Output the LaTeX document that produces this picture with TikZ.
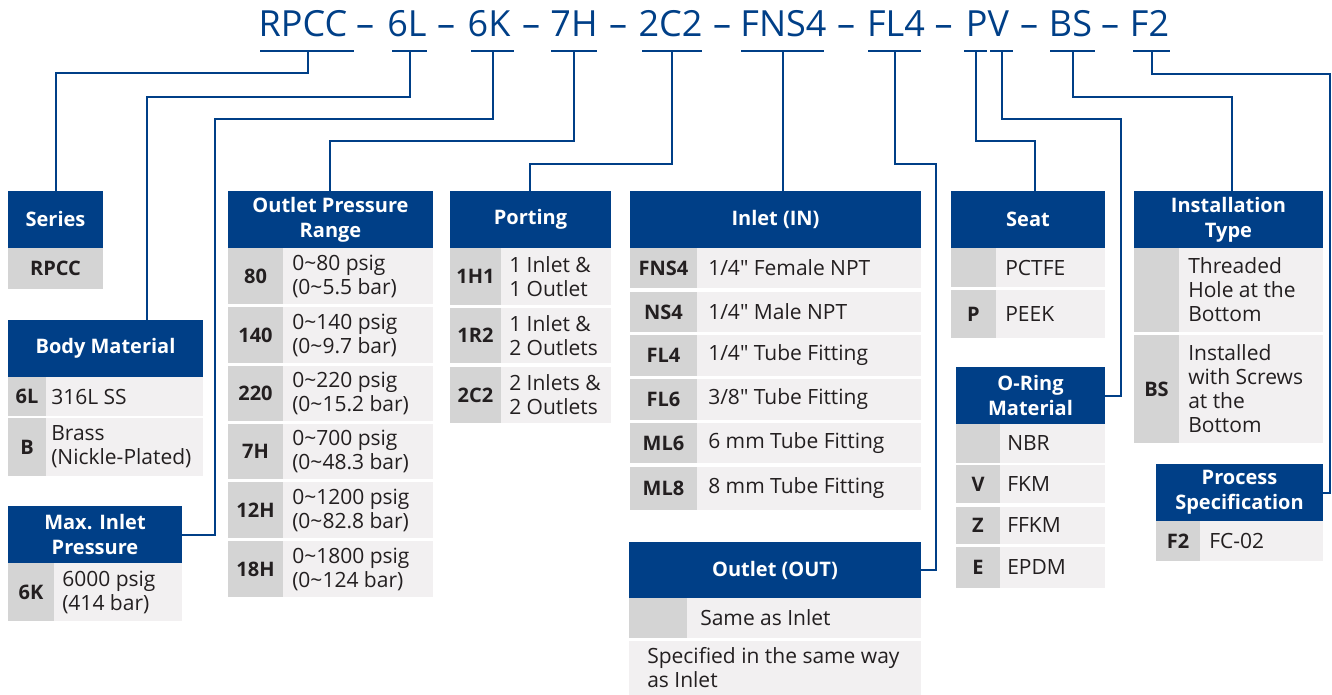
\documentclass[tikz,border=0pt]{standalone}
\usepackage{fontspec}
\setmainfont{Open Sans}[Ligatures=TeXOff]
\definecolor{hblue}{RGB}{0,63,135}
\definecolor{cgray}{RGB}{212,212,212}
\definecolor{dgray}{RGB}{242,240,241}
\definecolor{tdark}{RGB}{35,31,32}
\newcommand\descfont{\fontsize{15.75}{18}\selectfont}
\newcommand\codefont{\bfseries\fontsize{15}{18}\selectfont}
\newcommand\headfont{\bfseries\fontsize{15}{18.75}\selectfont}
\newcommand\titlefont{\fontsize{27}{30}\selectfont}
\tikzset{
  hd/.style={fill=hblue, text=white, font=\headfont, align=center, inner sep=0pt, draw=none},
  codet/.style={font=\codefont, text=tdark, inner sep=0pt},
  desct/.style={font=\descfont, text=tdark, align=left, inner sep=0pt},
  ttl/.style={font=\titlefont, text=hblue, inner sep=0pt, anchor=base},
  conn/.style={draw=hblue, line width=1.5pt},
  uline/.style={draw=hblue, line width=1.7pt}
}
% header box: name, x1, y1, x2, y2, text
\newcommand\Hd[6]{\node[hd, minimum width={(#4-#2)*0.75pt}, minimum height={(#5-#3)*0.75pt}] (#1) at ({(#2+#4)/2},{(#3+#5)/2}) {#6};}
% row: name, x1, xc, x2, y1, y2, code, descX, desc
\newcommand\Rw[9]{%
  \fill[cgray] (#2,#5) rectangle (#3,#6);
  \fill[dgray] (#3,#5) rectangle (#4,#6);
  \node[codet] (#1-c) at ({(#2+#3)/2},{(#5+#6)/2}) {#7};
  \node[desct, anchor=west] (#1) at (#8,{(#5+#6)/2}) {#9};}
\begin{document}
\begin{tikzpicture}[x=0.75pt,y=-0.75pt]
\useasboundingbox (0,0) rectangle (1332,695);

% ---------- title code ----------
\node[ttl] (cRPCC) at (303,37) {RPCC};
\node[ttl] (d1) at (365,37) {–};
\node[ttl] (c6L) at (407,37) {6L};
\node[ttl] (d2) at (446,37) {–};
\node[ttl] (c6K) at (489,37) {6K};
\node[ttl] (d3) at (531,37) {–};
\node[ttl] (c7H) at (574,37) {7H};
\node[ttl] (d4) at (618,37) {–};
\node[ttl] (c2C2) at (670.5,37) {2C2};
\node[ttl] (d5) at (722,37) {–};
\node[ttl] (cFNS4) at (783.5,37) {FNS4};
\node[ttl] (d6) at (846,37) {–};
\node[ttl] (cFL4) at (896,37) {FL4};
\node[ttl] (d7) at (943.5,37) {–};
\node[ttl] (cPV) at (987.5,37) {PV};
\node[ttl] (d8) at (1029,37) {–};
\node[ttl] (cBS) at (1070.5,37) {BS};
\node[ttl] (d9) at (1110,37) {–};
\node[ttl] (cF2) at (1149.5,37) {F2};

% underlines
\draw[uline] (260,51) -- (354,51);
\draw[uline] (392,51) -- (427,51);
\draw[uline] (471,51) -- (514,51);
\draw[uline] (551,51) -- (597,51);
\draw[uline] (642,51) -- (702,51);
\draw[uline] (741,51) -- (824,51);
\draw[uline] (868,51) -- (921,51);
\draw[uline] (964,51) -- (987,51);
\draw[uline] (990,51) -- (1013,51);
\draw[uline] (1050,51) -- (1095,51);
\draw[uline] (1133,51) -- (1170,51);

% tick points and junctions
\coordinate (tA) at (308,51);     \coordinate (jA) at (55.5,73);
\coordinate (t6L) at (410,51);    \coordinate (j6L) at (147,97);
\coordinate (t6K) at (492.5,51);  \coordinate (j6K) at (215,119);
\coordinate (t7H) at (574,51);    \coordinate (j7H) at (330,141);
\coordinate (t2C2) at (672,51);   \coordinate (j2C2) at (530,164);
\coordinate (tFNS4) at (782.5,51);
\coordinate (tFL4) at (894.5,51); \coordinate (jFL4) at (936,164);
\coordinate (tP) at (975.5,51);   \coordinate (jP) at (1035,141);
\coordinate (tV) at (1001.5,51);  \coordinate (jV) at (1121,119);
\coordinate (tBS) at (1072.5,51); \coordinate (jBS) at (1231.5,97);
\coordinate (tF2) at (1151.5,51); \coordinate (jF2) at (1330,74);

% ---------- Series ----------
\Hd{hSeries}{8}{191}{103}{248}{Series}
\fill[cgray] (8,248) rectangle (103,289);
\node[codet] (sRPCC) at (55.5,268.5) {RPCC};

% ---------- Body Material ----------
\Hd{hBody}{8}{320}{203}{377}{Body Material}
\Rw{b1}{8}{46}{203}{377}{416}{6L}{51}{316L SS}
\Rw{b2}{8}{46}{203}{418}{476}{B}{51}{Brass\\(Nickle-Plated)}

% ---------- Max. Inlet Pressure ----------
\Hd{hMax}{8}{506}{182}{563}{Max. Inlet\\Pressure}
\Rw{m1}{8}{54}{182}{563}{621}{6K}{62}{6000 psig\\(414 bar)}

% ---------- Outlet Pressure Range ----------
\Hd{hOPR}{228}{191}{433}{248}{Outlet Pressure\\Range}
\Rw{o1}{228}{283}{433}{248}{304}{80}{292}{0\textasciitilde 80 psig\\(0\textasciitilde 5.5 bar)}
\Rw{o2}{228}{283}{433}{307}{363}{140}{292}{0\textasciitilde 140 psig\\(0\textasciitilde 9.7 bar)}
\Rw{o3}{228}{283}{433}{366}{421}{220}{292}{0\textasciitilde 220 psig\\(0\textasciitilde 15.2 bar)}
\Rw{o4}{228}{283}{433}{424}{479}{7H}{292}{0\textasciitilde 700 psig\\(0\textasciitilde 48.3 bar)}
\Rw{o5}{228}{283}{433}{482}{538}{12H}{292}{0\textasciitilde 1200 psig\\(0\textasciitilde 82.8 bar)}
\Rw{o6}{228}{283}{433}{541}{597}{18H}{292}{0\textasciitilde 1800 psig\\(0\textasciitilde 124 bar)}

% ---------- Porting ----------
\Hd{hPort}{450}{191}{611}{248}{Porting}
\Rw{p1}{450}{501}{611}{248}{305}{1H1}{509}{1 Inlet \&\\1 Outlet}
\Rw{p2}{450}{501}{611}{308}{363}{1R2}{509}{1 Inlet \&\\2 Outlets}
\Rw{p3}{450}{501}{611}{367}{423}{2C2}{509}{2 Inlets \&\\2 Outlets}

% ---------- Inlet ----------
\Hd{hIn}{630}{191}{921}{248}{Inlet (IN)}
\Rw{i1}{630}{697}{921}{248}{288}{FNS4}{708}{1/4" Female NPT}
\Rw{i2}{630}{697}{921}{292}{332}{NS4}{708}{1/4" Male NPT}
\Rw{i3}{630}{697}{921}{335}{376}{FL4}{708}{1/4" Tube Fitting}
\Rw{i4}{630}{697}{921}{379}{420}{FL6}{708}{3/8" Tube Fitting}
\Rw{i5}{630}{697}{921}{423}{463}{ML6}{708}{6 mm Tube Fitting}
\Rw{i6}{630}{697}{921}{467}{510}{ML8}{708}{8 mm Tube Fitting}

% ---------- Outlet ----------
\Hd{hOut}{629}{542}{921}{598}{Outlet (OUT)}
\Rw{u1}{629}{687}{921}{598}{638}{}{700}{Same as Inlet}
\fill[dgray] (629,641) rectangle (921,695);
\node[desct, anchor=west] (u2) at (647,668) {Specified in the same way\\as Inlet};

% ---------- Seat ----------
\Hd{hSeat}{951}{191}{1105}{248}{Seat}
\Rw{s1}{951}{996}{1105}{248}{287}{}{1005}{PCTFE}
\Rw{s2}{951}{996}{1105}{290}{338}{P}{1005}{PEEK}

% ---------- O-Ring Material ----------
\Hd{hOR}{956}{367}{1105}{424}{O-Ring\\Material}
\Rw{r1}{956}{1000}{1105}{424}{463}{}{1007}{NBR}
\Rw{r2}{956}{1000}{1105}{465}{503}{V}{1007}{FKM}
\Rw{r3}{956}{1000}{1105}{507}{544}{Z}{1007}{FFKM}
\Rw{r4}{956}{1000}{1105}{547}{588}{E}{1007}{EPDM}

% ---------- Installation Type ----------
\Hd{hInst}{1134}{191}{1323}{248}{Installation\\Type}
\Rw{n1}{1134}{1179}{1323}{248}{332}{}{1188}{Threaded\\Hole at the\\Bottom}
\Rw{n2}{1134}{1179}{1323}{335}{443}{BS}{1188}{Installed\\with Screws\\at the\\Bottom}

% ---------- Process Specification ----------
\Hd{hProc}{1156}{464}{1323}{521}{Process\\Specification}
\Rw{f1}{1156}{1200}{1323}{521}{561}{F2}{1209}{FC-02}

% ---------- connectors ----------
\draw[conn] (tA) |- (jA) -- (hSeries.north -| jA);
\draw[conn] (t6L) |- (j6L) -- (hBody.north -| j6L);
\draw[conn] (t6K) |- (j6K) |- (hMax.east);
\draw[conn] (t7H) |- (j7H) -- (hOPR.north -| j7H);
\draw[conn] (t2C2) |- (j2C2) -- (hPort.north -| j2C2);
\draw[conn] (tFNS4) -- (hIn.north -| tFNS4);
\draw[conn] (tFL4) |- (jFL4) |- (hOut.east);
\draw[conn] (tP) |- (jP) -- (hSeat.north -| jP);
\draw[conn] (tV) |- (jV) |- (hOR.east);
\draw[conn] (tBS) |- (jBS) -- (hInst.north -| jBS);
\draw[conn] (tF2) |- (jF2) |- (hProc.east);
\end{tikzpicture}
\end{document}
